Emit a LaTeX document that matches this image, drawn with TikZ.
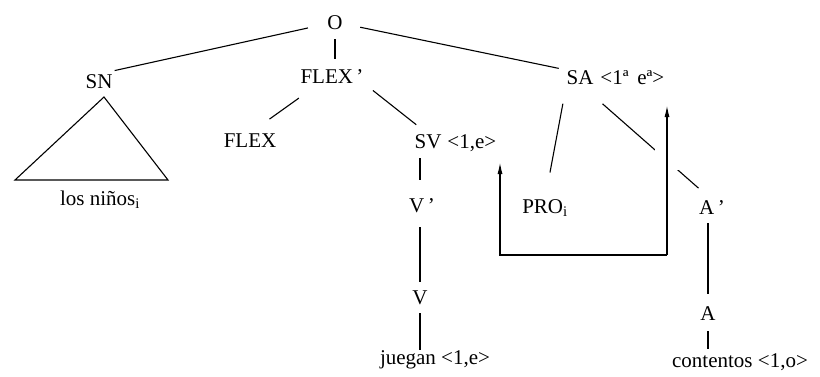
\documentclass[tikz,border=0pt]{standalone}
\usepackage{fontspec}
\setmainfont{Liberation Serif}
\usetikzlibrary{arrows.meta,calc}
\begin{document}
\begin{tikzpicture}[x=1pt,y=-1pt,
  lab/.style={inner sep=0pt,outer sep=0pt,font=\fontsize{21}{25}\selectfont,text height=14pt,text depth=0pt},
  wrd/.style={inner sep=0pt,outer sep=0pt,font=\fontsize{21}{25}\selectfont},
  br/.style={line width=1.1pt},
  arr/.style={line width=1.4pt,line join=miter,-{Latex[length=12pt,width=5pt]}}
]
\useasboundingbox (0,0) rectangle (820,376);
% nodes
\node[lab] (O) at (335,22) {O};
\node[lab] (SN) at (99,81) {SN};
\node[lab] (FLEXp) at (332,76) {FLEX\,'};
\node[lab] (FLEX) at (250,140) {FLEX};
\node[lab] (SA) at (580,77) {SA};
\node[lab,anchor=west] (SAf) at ([xshift=7pt]SA.east) {<1ª\, eª>};
\node[lab] (SV) at (428,141) {SV};
\node[lab,anchor=west] (SVf) at ([xshift=6pt]SV.east) {<1,e>};
\node[lab] (Vp) at (422,205) {V\,'};
\node[lab] (V) at (420,297) {V};
\node[wrd] (jue) at (435,360) {juegan <1,e>};
\node[lab] (PRO) at (545,206) {PRO\textsubscript{i}};
\node[lab] (Ap) at (712,207) {A\,'};
\node[lab] (A) at (708,313) {A};
\node[wrd] (cont) at (740,362) {contentos <1,o>};
\node[wrd] (los) at (100,200) {los niños\textsubscript{i}};
% triangle
\coordinate (t1) at (104,97);
\coordinate (t2) at (15,180);
\coordinate (t3) at (168,180);
\draw[br,line join=miter] (t1) -- (t2) -- (t3) -- cycle;
% branches
\draw[br,shorten <=20pt,shorten >=16pt] (O) -- (SN.north);
\draw[br,shorten <=10pt,shorten >=10pt] (O.south) -- (O.south |- FLEXp.north);
\draw[br,shorten <=18pt,shorten >=8pt] (O) -- (SA.north west);
\draw[br,shorten <=26pt,shorten >=24pt] ([xshift=-12pt]FLEXp.south) -- (FLEX.north);
\draw[br,shorten <=12pt,shorten >=15pt] (FLEXp.south east) -- (SV.north);
\draw[br,shorten <=10pt,shorten >=18pt] (V.north |- SV.south) -- (V.north |- Vp.north);
\draw[br,shorten <=15pt,shorten >=8pt] (V.north |- Vp.south) -- (V.north);
\draw[br,shorten <=9pt,shorten >=1pt] (V.south) -- (V.south |- jue.north);
\draw[br,shorten <=20pt,shorten >=27pt] (SA.south west) -- (PRO.north);
\draw[br,shorten <=30pt,shorten >=18pt] (SA.south) -- (Ap.north);
\draw[br,shorten <=9pt,shorten >=12pt] (A.north |- Ap.south) -- (A.north);
\draw[br,shorten <=11pt,shorten >=4pt] (A.south) -- (A.south |- cont.north);
% gap in the SA--A' branch
\fill[white] (655,146) rectangle (679,170);
% arrows
\coordinate (ca) at (500,255);
\coordinate (cb) at (667,255);
\draw[arr,shorten >=14pt] (cb) -- (ca) -- (ca |- SVf.south);
\draw[arr,shorten >=21pt] (cb) -- (cb |- SAf.south);
\end{tikzpicture}
\end{document}
